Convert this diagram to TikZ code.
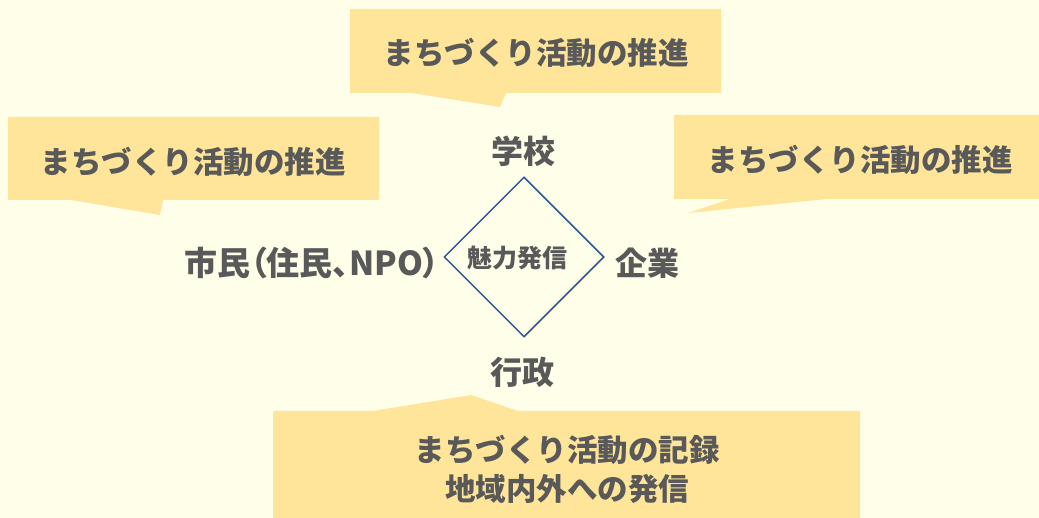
\documentclass[tikz,border=0pt]{standalone}
\usepackage{fontspec}
\setmainfont{Noto Sans CJK JP}
\newfontfamily\jpprop{Noto Sans CJK JP}[RawFeature=+palt]
\usetikzlibrary{shapes.geometric}
\definecolor{bg}{HTML}{FFFFE9}
\definecolor{boxc}{HTML}{FFE599}
\definecolor{txt}{HTML}{595959}
\definecolor{dia}{HTML}{2F5597}
\begin{document}
\begin{tikzpicture}[x=1pt,y=-1pt,
  lbl/.style={text=txt,font=\bfseries\fontsize{32}{38}\selectfont,inner sep=0pt},
  boxtxt/.style={text=txt,font=\bfseries\fontsize{30.5}{39}\selectfont,inner sep=0pt,align=center},
  callout/.style={fill=boxc,draw=none}]
\fill[bg] (0,0) rectangle (1039,518);
\useasboundingbox (0,0) rectangle (1039,518);
% callouts
\fill[callout] (350,9) -- (721,9) -- (721,93) -- (506,93) -- (500,107) -- (412,93) -- (350,93) -- cycle;
\fill[callout] (8,117) -- (379,117) -- (379,200) -- (163,200) -- (160,215) -- (71,200) -- (8,200) -- cycle;
\fill[callout] (674,115) -- (1039,115) -- (1039,199) -- (827,199) -- (688,213) -- (730,199) -- (674,199) -- cycle;
\fill[callout] (273,411) -- (373,411) -- (471,395) -- (518,411) -- (860,411) -- (860,518) -- (273,518) -- cycle;
\node[boxtxt] (t1) at (536,53) {まちづくり活動の推進};
\node[boxtxt] (t2) at (193,162) {まちづくり活動の推進};
\node[boxtxt] (t3) at (860,160) {まちづくり活動の推進};
\node[boxtxt] (t4) at (567,469) {まちづくり活動の記録\\地域内外への発信};
% diamond
\node[diamond,draw=dia,line width=1.5pt,minimum width=160pt,minimum height=160pt,inner sep=0pt] (d) at (524,257) {};
\node[text=txt,font=\bfseries\fontsize{25}{28}\selectfont,inner sep=0pt] (m) at (517,258) {魅力発信};
% labels
\node[lbl] (school) at (523,151) {学校};
\node[lbl] (gov) at (522,372) {行政};
\node[lbl] (corp) at (647,263) {企業};
\node[lbl,font=\jpprop\bfseries\fontsize{33}{38}\selectfont] (citizen) at (312,263) {市民（住民、NPO）};
\end{tikzpicture}
\end{document}
